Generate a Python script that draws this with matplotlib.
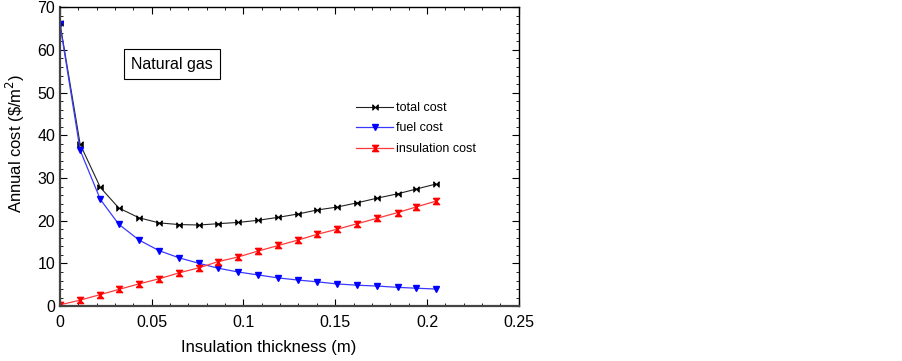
import matplotlib as mpl
import matplotlib.pyplot as plt
from matplotlib.path import Path
from matplotlib.ticker import MultipleLocator

mpl.rcParams.update({'font.family': 'Liberation Sans'})

thickness = [0, 0.011, 0.022, 0.032, 0.043, 0.054, 0.065, 0.076, 0.086, 0.097,
             0.108, 0.119, 0.130, 0.140, 0.151, 0.162, 0.173, 0.184, 0.194, 0.205]
fuel = [66.0, 36.5, 25.0, 19.2, 15.5, 13.0, 11.3, 10.0, 8.9, 8.0,
        7.3, 6.6, 6.1, 5.7, 5.2, 4.9, 4.7, 4.4, 4.2, 4.0]
insulation = [0.3, 1.4, 2.7, 3.9, 5.2, 6.4, 7.8, 9.0, 10.4, 11.5,
              12.9, 14.2, 15.5, 16.8, 18.0, 19.3, 20.6, 21.9, 23.2, 24.6]
total = [66.3, 37.9, 27.8, 23.0, 20.7, 19.5, 19.1, 19.0, 19.3, 19.6,
         20.1, 20.8, 21.6, 22.5, 23.2, 24.2, 25.3, 26.3, 27.4, 28.6]

# bowtie markers
M, L = Path.MOVETO, Path.LINETO
hbow = Path([(-1, 1), (-1, -1), (0, 0), (-1, 1), (1, 1), (1, -1), (0, 0), (1, 1)],
            [M, L, L, L, M, L, L, L])
vbow = Path([(-1, 1), (1, 1), (0, 0), (-1, 1), (-1, -1), (1, -1), (0, 0), (-1, -1)],
            [M, L, L, L, M, L, L, L])

fig = plt.figure(figsize=(9.03, 3.61), dpi=100)
ax = fig.add_axes([0.0664, 0.152, 0.508, 0.828])

ax.plot(thickness, total, color='#222222', lw=0.8, marker=hbow, ms=4,
        mfc='black', mec='black', mew=0.6, label='total cost')
ax.plot(thickness, fuel, color='#3a3aff', lw=0.9, marker='v', ms=5,
        mfc='blue', mec='blue', label='fuel cost')
ax.plot(thickness, insulation, color='#ff3a3a', lw=0.9, marker=vbow, ms=4.5,
        mfc='red', mec='red', label='insulation cost')

ax.set_xlim(0, 0.25)
ax.set_ylim(0, 70)
ax.xaxis.set_major_locator(MultipleLocator(0.05))
ax.xaxis.set_minor_locator(MultipleLocator(0.01))
ax.yaxis.set_major_locator(MultipleLocator(10))
ax.yaxis.set_minor_locator(MultipleLocator(2))
ax.set_xticks([0, 0.05, 0.1, 0.15, 0.2, 0.25])
ax.set_xticklabels(['0', '0.05', '0.1', '0.15', '0.2', '0.25'])
ax.tick_params(which='both', direction='in', top=True, right=True, labelsize=11.5)
ax.tick_params(which='major', length=5, width=0.8)
ax.tick_params(which='minor', length=2.5, width=0.6)
ax.tick_params(axis='x', which='major', pad=6.5)
for s in ax.spines.values():
    s.set_linewidth(1.0)
ax.spines['left'].set_color('#444444')
ax.spines['bottom'].set_color('#444444')
ax.spines['left'].set_linewidth(1.6)
ax.spines['bottom'].set_linewidth(1.6)

ax.set_xlabel('Insulation thickness (m)', fontsize=12)
ax.set_ylabel(r'Annual cost (\$/m$^2$)', fontsize=12)
ax.xaxis.set_label_coords(0.455, -0.114)
ax.yaxis.set_label_coords(-0.072, 0.545)

ax.text(0.061, 56.7, 'Natural gas', fontsize=11.5, ha='center', va='center',
        bbox=dict(boxstyle='square,pad=0.45', fc='white', ec='black', lw=0.8))

ax.legend(loc='upper left', bbox_to_anchor=(0.645, 0.683), frameon=False,
          fontsize=9, handlelength=3.0, handletextpad=0.2, labelspacing=0.68,
          borderpad=0, borderaxespad=0)

plt.savefig('out.png', dpi=100)
